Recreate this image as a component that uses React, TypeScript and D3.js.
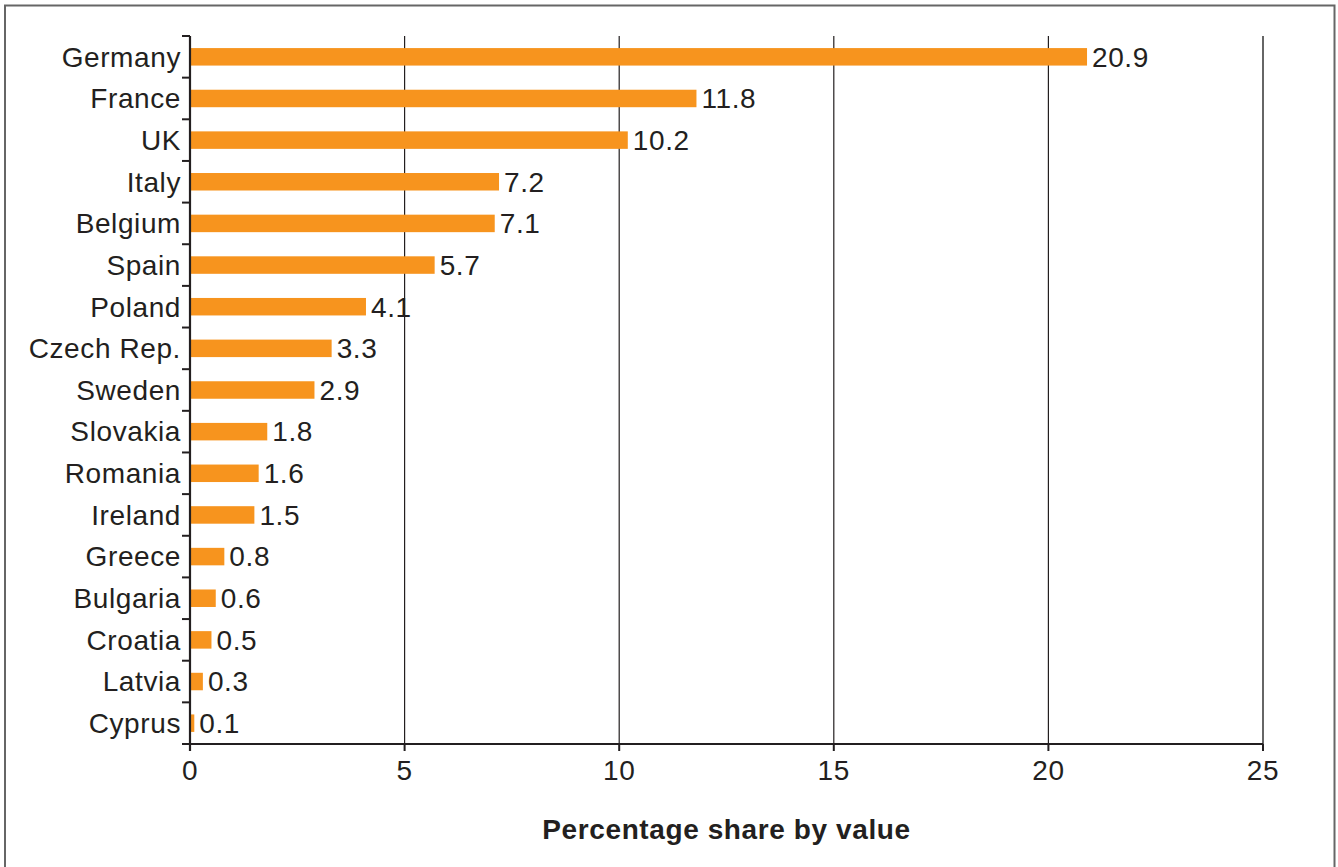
import * as d3 from "d3";

const countries = [
  "Germany", "France", "UK", "Italy", "Belgium", "Spain", "Poland", "Czech Rep.",
  "Sweden", "Slovakia", "Romania", "Ireland", "Greece", "Bulgaria", "Croatia", "Latvia", "Cyprus",
];
const shares = [20.9, 11.8, 10.2, 7.2, 7.1, 5.7, 4.1, 3.3, 2.9, 1.8, 1.6, 1.5, 0.8, 0.6, 0.5, 0.3, 0.1];
const xTicks = [0, 5, 10, 15, 20, 25];
const xTitle = "Percentage share by value";

const W = 1338;
const H = 867;
const margin = { left: 190, right: 75, top: 36, bottom: 123 };
const font = "'Liberation Sans', Arial, sans-serif";
const ink = "#231F20";
const orange = "#F7941E";

export default function App() {
  const x = d3.scaleLinear().domain([0, 25]).range([margin.left, W - margin.right]);
  const y = d3
    .scaleBand<string>()
    .domain(countries)
    .range([margin.top, H - margin.bottom])
    .paddingInner(0.58)
    .paddingOuter(0.29);
  const step = y.step();
  const top = margin.top;
  const bottom = H - margin.bottom;
  const boundaries = d3.range(countries.length + 1).map((i) => top + i * step);

  return (
    <svg
      width={W}
      height={H}
      style={{ position: "absolute", left: 0, top: 0, background: "#fff" }}
      fontFamily={font}
      letterSpacing={0.6}
    >
      <rect x={5} y={5.5} width={1329.5} height={H + 10} fill="none" stroke="#666" strokeWidth={2} />

      {/* vertical grid */}
      {xTicks.slice(1).map((t) => (
        <line
          key={t}
          x1={x(t)}
          x2={x(t)}
          y1={top}
          y2={bottom}
          stroke={t === 25 ? "#666" : ink}
          strokeWidth={t === 25 ? 2 : 1.2}
        />
      ))}

      {/* bars */}
      {countries.map((c, i) => (
        <rect key={c} x={x(0)} y={y(c)} width={x(shares[i]) - x(0)} height={y.bandwidth()} fill={orange} />
      ))}

      {/* value labels */}
      {countries.map((c, i) => (
        <text
          key={c}
          x={x(shares[i]) + 5}
          y={(y(c) ?? 0) + y.bandwidth() / 2}
          dy="0.35em"
          fontSize={28}
          fill={ink}
        >
          {shares[i].toFixed(1)}
        </text>
      ))}

      {/* y axis */}
      <line x1={x(0)} x2={x(0)} y1={top} y2={bottom + 7} stroke={ink} strokeWidth={2.2} />
      {boundaries.map((b, i) => (
        <line key={i} x1={x(0) - 8} x2={x(0)} y1={b} y2={b} stroke={ink} strokeWidth={2} />
      ))}
      {countries.map((c) => (
        <text
          key={c}
          x={x(0) - 9}
          y={(y(c) ?? 0) + y.bandwidth() / 2}
          dy="0.35em"
          textAnchor="end"
          fontSize={28}
          fill={ink}
        >
          {c}
        </text>
      ))}

      {/* x axis */}
      <line x1={x(0) - 8} x2={x(25)} y1={bottom} y2={bottom} stroke={ink} strokeWidth={2.2} />
      {xTicks.map((t) => (
        <g key={t}>
          <line x1={x(t)} x2={x(t)} y1={bottom} y2={bottom + 7} stroke={ink} strokeWidth={2} />
          <text x={x(t)} y={780} textAnchor="middle" fontSize={28} fill={ink}>
            {t}
          </text>
        </g>
      ))}
      <text
        x={(x(0) + x(25)) / 2}
        y={839}
        textAnchor="middle"
        fontSize={28}
        fontWeight="bold"
        fill={ink}
      >
        {xTitle}
      </text>
    </svg>
  );
}
